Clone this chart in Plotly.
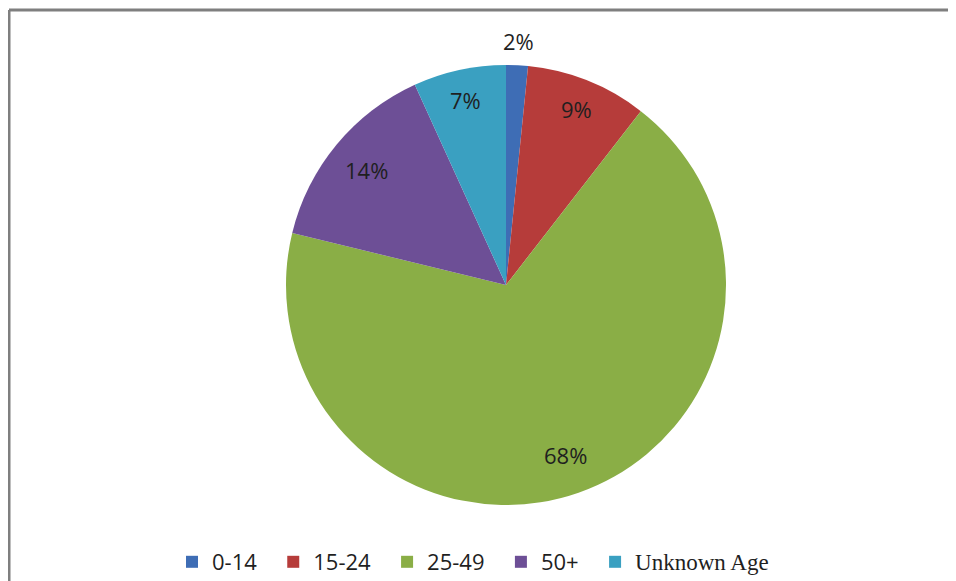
import math
import plotly.graph_objects as go

categories = ["0-14", "15-24", "25-49", "50+", "Unknown Age"]
values = [1.6, 8.9, 68.3, 14.4, 6.8]
colors = ["#3E6DB5", "#B63C3A", "#8AAE46", "#6D4F96", "#3AA0C1"]
# label distance from centre as a fraction of the radius (style)
label_radius = [1.11, 0.86, 0.82, 0.82, 0.86]

legend_names = [
    (c if c != "Unknown Age" else "<span style='font-family:Liberation Serif;font-size:23px'>Unknown Age</span>")
    + ("\u00a0\u00a0" if i < len(categories) - 1 else "")
    for i, c in enumerate(categories)
]

# page has an 8px body margin, so figure coords are page coords minus 8
W, H = 956, 581
cx, cy, r = 498, 277, 220

fig = go.Figure(go.Pie(
    labels=legend_names,
    values=values,
    sort=False,
    direction="clockwise",
    rotation=0,
    marker=dict(colors=colors, line=dict(color="white", width=0)),
    textinfo="none",
    hoverinfo="percent",
    domain=dict(x=[(cx - r) / W, (cx + r) / W], y=[1 - (cy + r) / H, 1 - (cy - r) / H]),
))

# percentage labels placed at the mid-angle of each slice
total = sum(values)
cum = 0.0
annotations = []
for v, k in zip(values, label_radius):
    mid = (cum + v / 2) / total * 2 * math.pi
    cum += v
    px = cx + k * r * math.sin(mid)
    py = cy - k * r * math.cos(mid)
    annotations.append(dict(
        x=px / W, y=1 - py / H, xref="paper", yref="paper",
        text=f"{round(v / total * 100)}%", showarrow=False,
        font=dict(family="Open Sans", size=22, color="#1f1f1f"),
        xanchor="center", yanchor="middle",
    ))

fig.update_layout(
    width=W, height=H,
    margin=dict(l=0, r=0, t=0, b=0),
    paper_bgcolor="white",
    plot_bgcolor="white",
    showlegend=True,
    legend=dict(
        orientation="h",
        x=465 / W, xanchor="center",
        y=1 - 554 / H, yanchor="middle",
        font=dict(family="Open Sans", size=22, color="#1f1f1f"),
        traceorder="normal",
    ),
    annotations=annotations,
    shapes=[
        dict(type="line", xref="paper", yref="paper", x0=1 / W, x1=1, y0=1 - 2 / H, y1=1 - 2 / H,
             line=dict(color="#7f7f7f", width=3)),
        dict(type="line", xref="paper", yref="paper", x0=1 / W, x1=1 / W, y0=0, y1=1 - 2 / H,
             line=dict(color="#7f7f7f", width=3)),
    ],
)

fig.write_html("out.html")
